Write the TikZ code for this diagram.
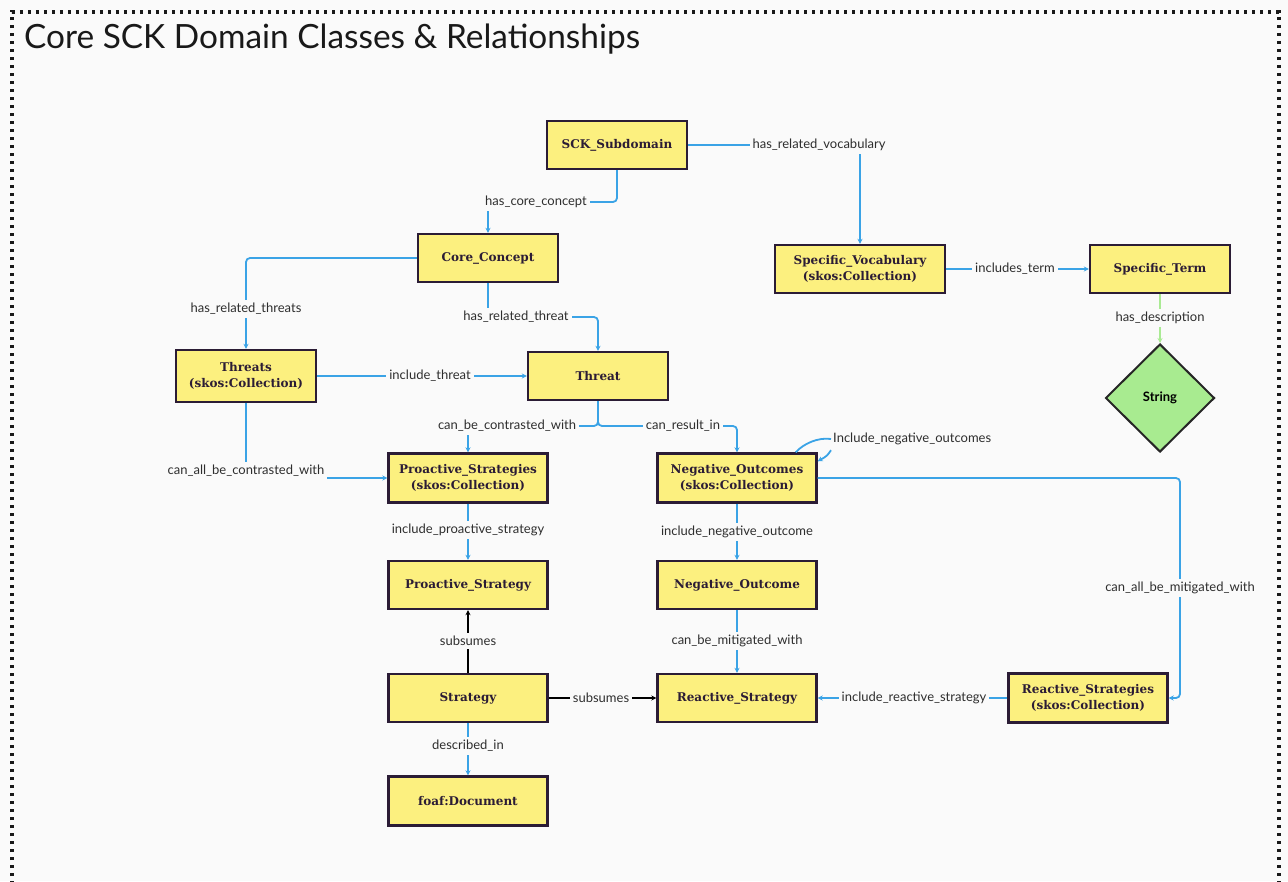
\documentclass[tikz,border=0pt]{standalone}
\usepackage{fontspec}
\usetikzlibrary{arrows.meta,shapes.geometric}
\newfontfamily\lblfont{Lato}
\newfontfamily\boxfont{DejaVu Serif}
\definecolor{bg}{HTML}{FAFAFA}
\definecolor{boxfill}{HTML}{FCF07F}
\definecolor{boxline}{HTML}{2B1C35}
\definecolor{relblue}{HTML}{3AA3E6}
\definecolor{relgreen}{HTML}{A9EA93}
\definecolor{strfill}{HTML}{A8EB90}
\definecolor{txt}{HTML}{2E2E2E}
\tikzset{
  cls/.style={draw=boxline, line width=2.4pt, fill=boxfill, minimum width=140pt,
    minimum height=48pt, align=center, inner sep=2pt,
    font=\boxfont\bfseries\fontsize{12}{16}\selectfont, text=boxline},
  rel/.style={draw=relblue, line width=1.8pt, rounded corners=4pt,
    -{Stealth[length=5pt,width=5pt]}},
  blk/.style={draw=black, line width=1.8pt, -{Stealth[length=5pt,width=5pt]}},
  lbl/.style={fill=bg, inner sep=3pt, text=txt, font=\lblfont\fontsize{13}{14}\selectfont},
}
\begin{document}
\begin{tikzpicture}[x=1pt,y=-1pt]
\useasboundingbox (0,0) rectangle (1288,881);
\clip (0,0) rectangle (1288,881);
\fill[bg] (0,0) rectangle (1288,881);
% dotted frame
\draw[line width=3.2pt, dash pattern=on 3.2pt off 4.8pt, color=black!90] (12,900) -- (12,12) -- (1279,12) -- (1279,900);
\node[anchor=base west, inner sep=0pt, font=\lblfont\fontsize{33.4}{36}\selectfont, text=black!90] (title) at (24,48) {Core SCK Domain Classes \& Relationships};

% classes
\node[cls] (sck) at (617,145) {SCK\_Subdomain};
\node[cls] (core) at (488,258) {Core\_Concept};
\node[cls, minimum width=170pt] (voc) at (860,269) {Specific\_Vocabulary\\(skos:Collection)};
\node[cls] (term) at (1160,269) {Specific\_Term};
\node[diamond, draw=black!85, line width=2pt, fill=strfill, minimum width=109pt, minimum height=108pt, inner sep=0pt,
  font=\lblfont\bfseries\fontsize{13}{14}\selectfont] (string) at (1160,398) {String};
\node[cls, minimum height=52pt] (threats) at (246,376) {Threats\\(skos:Collection)};
\node[cls] (threat) at (598,376) {Threat};
\node[cls, minimum width=159pt, minimum height=49pt] (pstrats) at (468,478) {Proactive\_Strategies\\(skos:Collection)};
\node[cls, minimum width=159pt, minimum height=49pt] (negs) at (737,478) {Negative\_Outcomes\\(skos:Collection)};
\node[cls, minimum width=159pt] (pstrat) at (468,585) {Proactive\_Strategy};
\node[cls, minimum width=159pt] (negout) at (737,585) {Negative\_Outcome};
\node[cls, minimum width=159pt] (strategy) at (468,698) {Strategy};
\node[cls, minimum width=159pt] (rstrat) at (737,698) {Reactive\_Strategy};
\node[cls, minimum width=159pt, minimum height=49pt] (rstrats) at (1088,698) {Reactive\_Strategies\\(skos:Collection)};
\node[cls, minimum width=159pt, minimum height=49pt] (doc) at (468,801) {foaf:Document};

% relationships
\coordinate (mitR) at (1180,478);
\draw[rel] (sck.south) -- (sck.south |- 0,202) -| (core.north);
\draw[rel] (sck.east) -| (voc.north);
\draw[rel] (core.west) -| (threats.north);
\draw[rel] (core.south) -- (core.south |- 0,317) -| (threat.north);
\draw[rel] (threats.east) -- (threat.west);
\draw[rel] (threats.south) |- (pstrats.west);
\draw[rel] (threat.south) -- (threat.south |- 0,426) -| (pstrats.north);
\draw[rel] (threat.south) -- (threat.south |- 0,426) -| (negs.north);
\draw[rel] (negs.east) -- (mitR) |- (rstrats.east);
\draw[rel] (pstrats) -- (pstrat);
\draw[rel] (negs) -- (negout);
\draw[rel] (negout) -- (rstrat);
\draw[blk] (strategy) -- (pstrat);
\draw[blk] (strategy) -- (rstrat);
\draw[rel] (rstrats) -- (rstrat);
\draw[rel] (strategy) -- (doc);
\draw[rel] (voc) -- (term);
\draw[rel, draw=relgreen] (term) -- (string);

% edge labels
\node[lbl] at (536,202) {has\_core\_concept};
\node[lbl] at (819,145) {has\_related\_vocabulary};
\node[lbl] at (246,309) {has\_related\_threats};
\node[lbl] at (516,317) {has\_related\_threat};
\node[lbl] at (430,376) {include\_threat};
\node[lbl] at (246,471) {can\_all\_be\_contrasted\_with};
\node[lbl] at (507,426) {can\_be\_contrasted\_with};
\node[lbl] at (683,426) {can\_result\_in};
\node[lbl] at (1180,588) {can\_all\_be\_mitigated\_with};
\node[lbl] at (468,530) {include\_proactive\_strategy};
\node[lbl] at (737,532) {include\_negative\_outcome};
\node[lbl] at (737,641) {can\_be\_mitigated\_with};
\node[lbl] at (468,641) {subsumes};
\node[lbl] at (601,698) {subsumes};
\node[lbl] at (914,698) {include\_reactive\_strategy};
\node[lbl] at (468,746) {described\_in};
\node[lbl] at (1015,269) {includes\_term};
\node[lbl] at (1160,318) {has\_description};

% self relation on the negative outcomes collection
\node[lbl, anchor=west, inner sep=2pt] (loop) at (831,439) {Include\_negative\_outcomes};
\draw[draw=relblue, line width=1.8pt] ([xshift=-22pt]negs.north east) .. controls (803,444) and (818,437) .. (loop.west);
\draw[rel] ([yshift=-3pt]loop.south west) .. controls (827,456) .. ([yshift=-9pt]negs.north east);
\end{tikzpicture}
\end{document}
